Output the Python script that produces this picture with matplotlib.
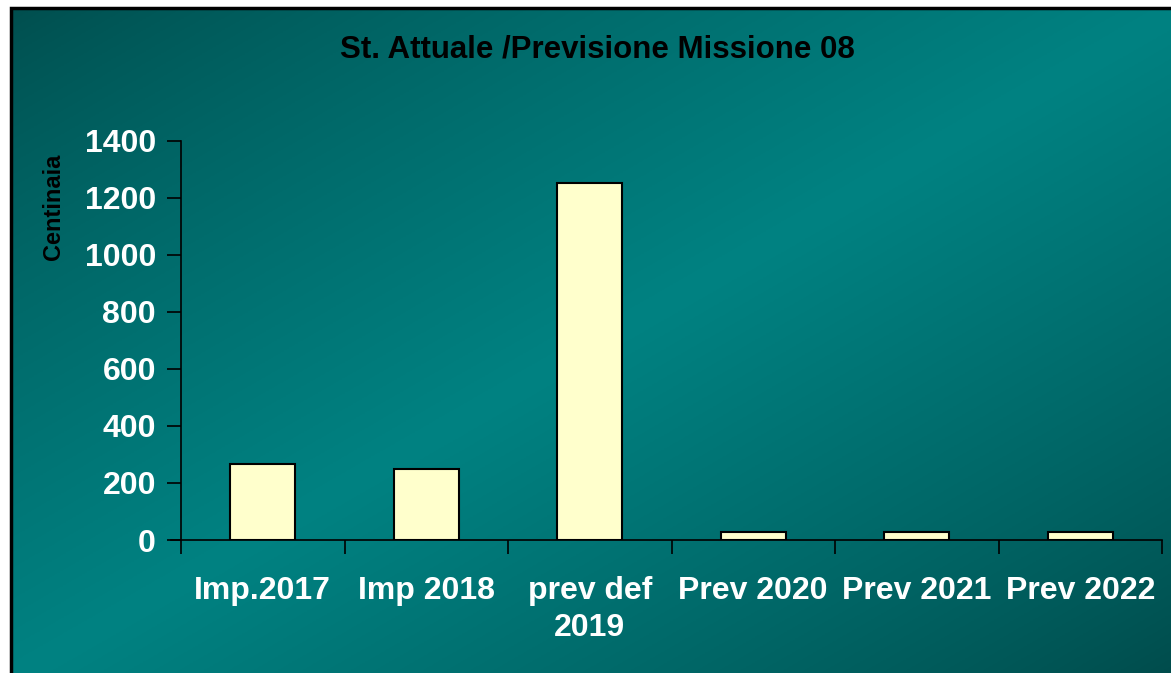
import matplotlib
matplotlib.use("Agg")
import matplotlib.pyplot as plt
import numpy as np
from matplotlib.patches import Rectangle

categories = ["Imp.2017", "Imp 2018", "prev def\n2019", "Prev 2020", "Prev 2021", "Prev 2022"]
values = [265, 250, 1253, 28, 28, 28]
yticks = [0, 200, 400, 600, 800, 1000, 1200, 1400]

W, H = 1171, 673
plt.rcParams["font.family"] = ["Liberation Sans", "DejaVu Sans"]
plt.rcParams["font.weight"] = "bold"

fig = plt.figure(figsize=(W / 100, H / 100), dpi=100)
fig.patch.set_facecolor("white")

# diagonal teal gradient background, running off the right and bottom edges
bg = fig.add_axes([11 / W, -0.01, 1.0, 1.01 - 8 / H], zorder=0)
xx, yy = np.meshgrid(np.linspace(0, 1, 400), np.linspace(0, 1, 240))
t = (xx + yy) / 2
light = 1 - np.abs(t - 0.5) * 2
g = 78 + 52 * light ** 0.8
g = g - 8 * np.clip(t - 0.5, 0, None)
img = np.dstack([np.zeros_like(g), g / 255, g / 255])
bg.imshow(img, aspect="auto", extent=[0, 1, 1, 0])
bg.set_xlim(0, 1)
bg.set_ylim(1, 0)
bg.axis("off")
bg.add_patch(Rectangle((0, 0), 1, 1, transform=bg.transAxes, fill=False,
                       edgecolor="black", linewidth=2.5, clip_on=False))

ax = fig.add_axes([181 / W, 133 / H, (1162 - 181) / W, 399.3 / H], zorder=1)
ax.patch.set_alpha(0)
x = np.arange(len(categories))
ax.bar(x, values, width=0.4, color="#FFFFCC", edgecolor="black", linewidth=1.5, zorder=3)
ax.set_xlim(-0.5, len(categories) - 0.5)
ax.set_ylim(0, 1400)
ax.set_yticks(yticks)
ax.tick_params(axis="y", colors="black", labelcolor="white", labelsize=23,
               length=10, width=1.2, pad=8)
ax.set_xticks(x)
ax.set_xticklabels(categories)
ax.set_xticks(np.arange(len(categories) + 1) - 0.5, minor=True)
ax.tick_params(axis="x", which="major", length=0, labelcolor="white", labelsize=23, pad=26)
ax.tick_params(axis="x", which="minor", length=10, width=1.2, color="black")
for lab in ax.get_xticklabels() + ax.get_yticklabels():
    lab.set_fontweight("bold")
    lab.set_linespacing(1.3)
for s in ["top", "right"]:
    ax.spines[s].set_visible(False)
ax.spines["left"].set_linewidth(1.2)
ax.spines["bottom"].set_linewidth(1.2)
ax.spines["bottom"].set_bounds(-0.5 - 10 / 163.5, len(categories) - 0.5)
ax.set_ylabel("Centinaia", fontsize=17, fontweight="bold", color="black")
ax.yaxis.set_label_coords(-0.118, 0.834)

fig.text(597 / W, 1 - 50 / H, "St. Attuale /Previsione Missione 08", ha="center", va="center",
         fontsize=22.5, fontweight="bold", color="black")

fig.savefig("out.png", dpi=100, facecolor=fig.get_facecolor())
